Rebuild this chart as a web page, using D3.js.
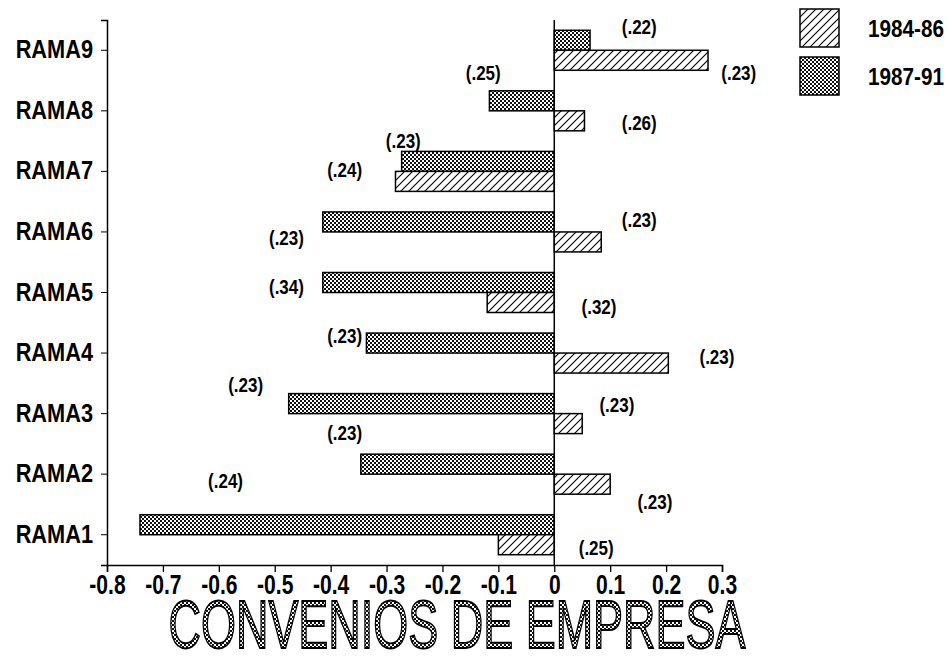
<!DOCTYPE html>
<html>
<head>
<meta charset="utf-8">
<script src="https://cdn.jsdelivr.net/npm/d3@7"></script>
<style>
  body { margin: 0; background: #fff; }
  text { font-family: "Liberation Sans", Arial, sans-serif; font-weight: bold; }
</style>
</head>
<body>
<div id="chart"></div>
<script>
// categories, top to bottom
var ramas = ["RAMA9", "RAMA8", "RAMA7", "RAMA6", "RAMA5", "RAMA4", "RAMA3", "RAMA2", "RAMA1"];

// series values
var vals8486 = [0.275, 0.054, -0.284, 0.084, -0.12, 0.204, 0.05, 0.10, -0.10];
var vals8791 = [0.064, -0.116, -0.273, -0.414, -0.414, -0.336, -0.475, -0.346, -0.741];

// standard errors printed next to the bars
var se8486 = ["(.23)", "(.26)", "(.24)", "(.23)", "(.32)", "(.23)", "(.23)", "(.23)", "(.25)"];
var se8791 = ["(.22)", "(.25)", "(.23)", "(.23)", "(.34)", "(.23)", "(.23)", "(.23)", "(.24)"];

var xTicks = [-0.8, -0.7, -0.6, -0.5, -0.4, -0.3, -0.2, -0.1, 0, 0.1, 0.2, 0.3];
var seriesNames = ["1984-86", "1987-91"];

// where each label sits: x in data units, dy in px from band centre
var lab8486Pos = [[0.33, 23], [0.152, 12], [-0.375, -1], [0.152, -12], [0.08, 14], [0.291, 4], [0.112, -9], [0.18, 28], [0.075, 13]];
var lab8791Pos = [[0.152, -23], [-0.127, -38], [-0.27, -30], [-0.479, 6], [-0.479, -6], [-0.375, -17], [-0.552, -29], [-0.375, -41], [-0.588, -54]];

var W = 951, H = 657;
var svg = d3.select("#chart").append("svg")
    .attr("width", W)
    .attr("height", H);

// squeeze text horizontally, the original uses a narrow face
function condense(sel, k) {
  sel.each(function() {
    var w = this.getComputedTextLength();
    d3.select(this).attr("textLength", w * k).attr("lengthAdjust", "spacingAndGlyphs");
  });
}

// patterns
var defs = svg.append("defs");
var hatch = defs.append("pattern")
    .attr("id", "hatch")
    .attr("patternUnits", "userSpaceOnUse")
    .attr("width", 8).attr("height", 8);
hatch.append("rect").attr("width", 8).attr("height", 8).attr("fill", "#fff");
hatch.append("path")
    .attr("d", "M-2,10 L10,-2 M-2,2 L2,-2 M6,10 L10,6")
    .attr("stroke", "#000").attr("stroke-width", 1.1);

var cross = defs.append("pattern")
    .attr("id", "cross")
    .attr("patternUnits", "userSpaceOnUse")
    .attr("width", 4).attr("height", 4);
cross.append("rect").attr("width", 4).attr("height", 4).attr("fill", "#fff");
cross.append("rect").attr("width", 2).attr("height", 2).attr("fill", "#111");
cross.append("rect").attr("x", 2).attr("y", 2).attr("width", 2).attr("height", 2).attr("fill", "#111");

var plotLeft = 107, plotRight = 722, plotTop = 20, plotBottom = 565;

var x = d3.scaleLinear().domain([-0.8, 0.3]).range([plotLeft, plotRight]);
var y = d3.scaleBand().domain(ramas).range([plotTop, plotBottom]).padding(0);
var sub = d3.scaleBand().domain(["1987-91", "1984-86"])
    .range([y.bandwidth() / 2 - 20, y.bandwidth() / 2 + 20]);

// bars
var rows = ramas.map(function(r, i) {
  return [
    { cat: r, s: "1987-91", v: vals8791[i], lab: se8791[i], pos: lab8791Pos[i] },
    { cat: r, s: "1984-86", v: vals8486[i], lab: se8486[i], pos: lab8486Pos[i] }
  ];
});
var flat = [].concat.apply([], rows);

svg.append("g").selectAll("rect")
    .data(flat)
    .enter().append("rect")
    .attr("x", function(d) { return x(Math.min(0, d.v)); })
    .attr("y", function(d) { return y(d.cat) + sub(d.s); })
    .attr("width", function(d) { return Math.abs(x(d.v) - x(0)); })
    .attr("height", sub.bandwidth())
    .attr("fill", function(d) { return d.s === "1987-91" ? "url(#cross)" : "url(#hatch)"; })
    .attr("stroke", "#000")
    .attr("stroke-width", 1.5);

// zero line
svg.append("line")
    .attr("x1", x(0)).attr("x2", x(0))
    .attr("y1", plotTop).attr("y2", plotBottom)
    .attr("stroke", "#000").attr("stroke-width", 1.5);

// labels
var labs = svg.append("g").selectAll("text")
    .data(flat)
    .enter().append("text")
    .attr("x", function(d) { return x(d.pos[0]); })
    .attr("y", function(d) { return y(d.cat) + y.bandwidth() / 2 + d.pos[1]; })
    .attr("text-anchor", "middle")
    .attr("dy", "0.35em")
    .attr("font-size", 20)
    .text(function(d) { return d.lab; });
condense(labs, 0.85);

// axes
var xAxis = d3.axisBottom(x)
    .tickValues(xTicks)
    .tickSize(7)
    .tickPadding(3)
    .tickFormat(function(d) { return d === 0 ? "0" : d3.format(".1f")(d).replace("\u2212", "-"); });

var gx = svg.append("g")
    .attr("transform", "translate(0," + plotBottom + ")")
    .call(xAxis);
gx.select(".domain").attr("stroke-width", 1.5);
gx.selectAll(".tick line").attr("stroke-width", 1.3);
gx.selectAll("text").attr("font-size", 27).attr("fill", "#000")
    .style("font-family", "'Liberation Sans', Arial, sans-serif")
    .style("font-weight", "bold");
condense(gx.selectAll("text"), 0.78);

var yAxis = d3.axisLeft(y).tickSize(6).tickPadding(8);
var gy = svg.append("g")
    .attr("transform", "translate(" + plotLeft + ",0)")
    .call(yAxis);
gy.select(".domain").attr("stroke-width", 1.5);
gy.selectAll("text").attr("font-size", 25).attr("fill", "#000")
    .style("font-family", "'Liberation Sans', Arial, sans-serif")
    .style("font-weight", "bold");
condense(gy.selectAll("text"), 0.87);

// legend
var legend = svg.append("g").attr("transform", "translate(800,9)");
seriesNames.forEach(function(s, i) {
  var g = legend.append("g").attr("transform", "translate(0," + (i * 48) + ")");
  g.append("rect")
    .attr("width", 39).attr("height", 38)
    .attr("fill", s === "1987-91" ? "url(#cross)" : "url(#hatch)")
    .attr("stroke", "#000").attr("stroke-width", 1.5);
  var t = g.append("text")
    .attr("x", 68).attr("y", 20)
    .attr("dy", "0.35em")
    .attr("font-size", 23)
    .text(s);
  condense(t, 0.9);
});

// title
svg.append("text")
    .attr("x", 457)
    .attr("y", 648)
    .attr("text-anchor", "middle")
    .attr("font-size", 68)
    .attr("textLength", 577)
    .attr("lengthAdjust", "spacingAndGlyphs")
    .style("font-weight", "normal")
    .attr("fill", "url(#cross)")
    .attr("stroke", "#000")
    .attr("stroke-width", 1.8)
    .text("CONVENIOS DE EMPRESA");
</script>
</body>
</html>
